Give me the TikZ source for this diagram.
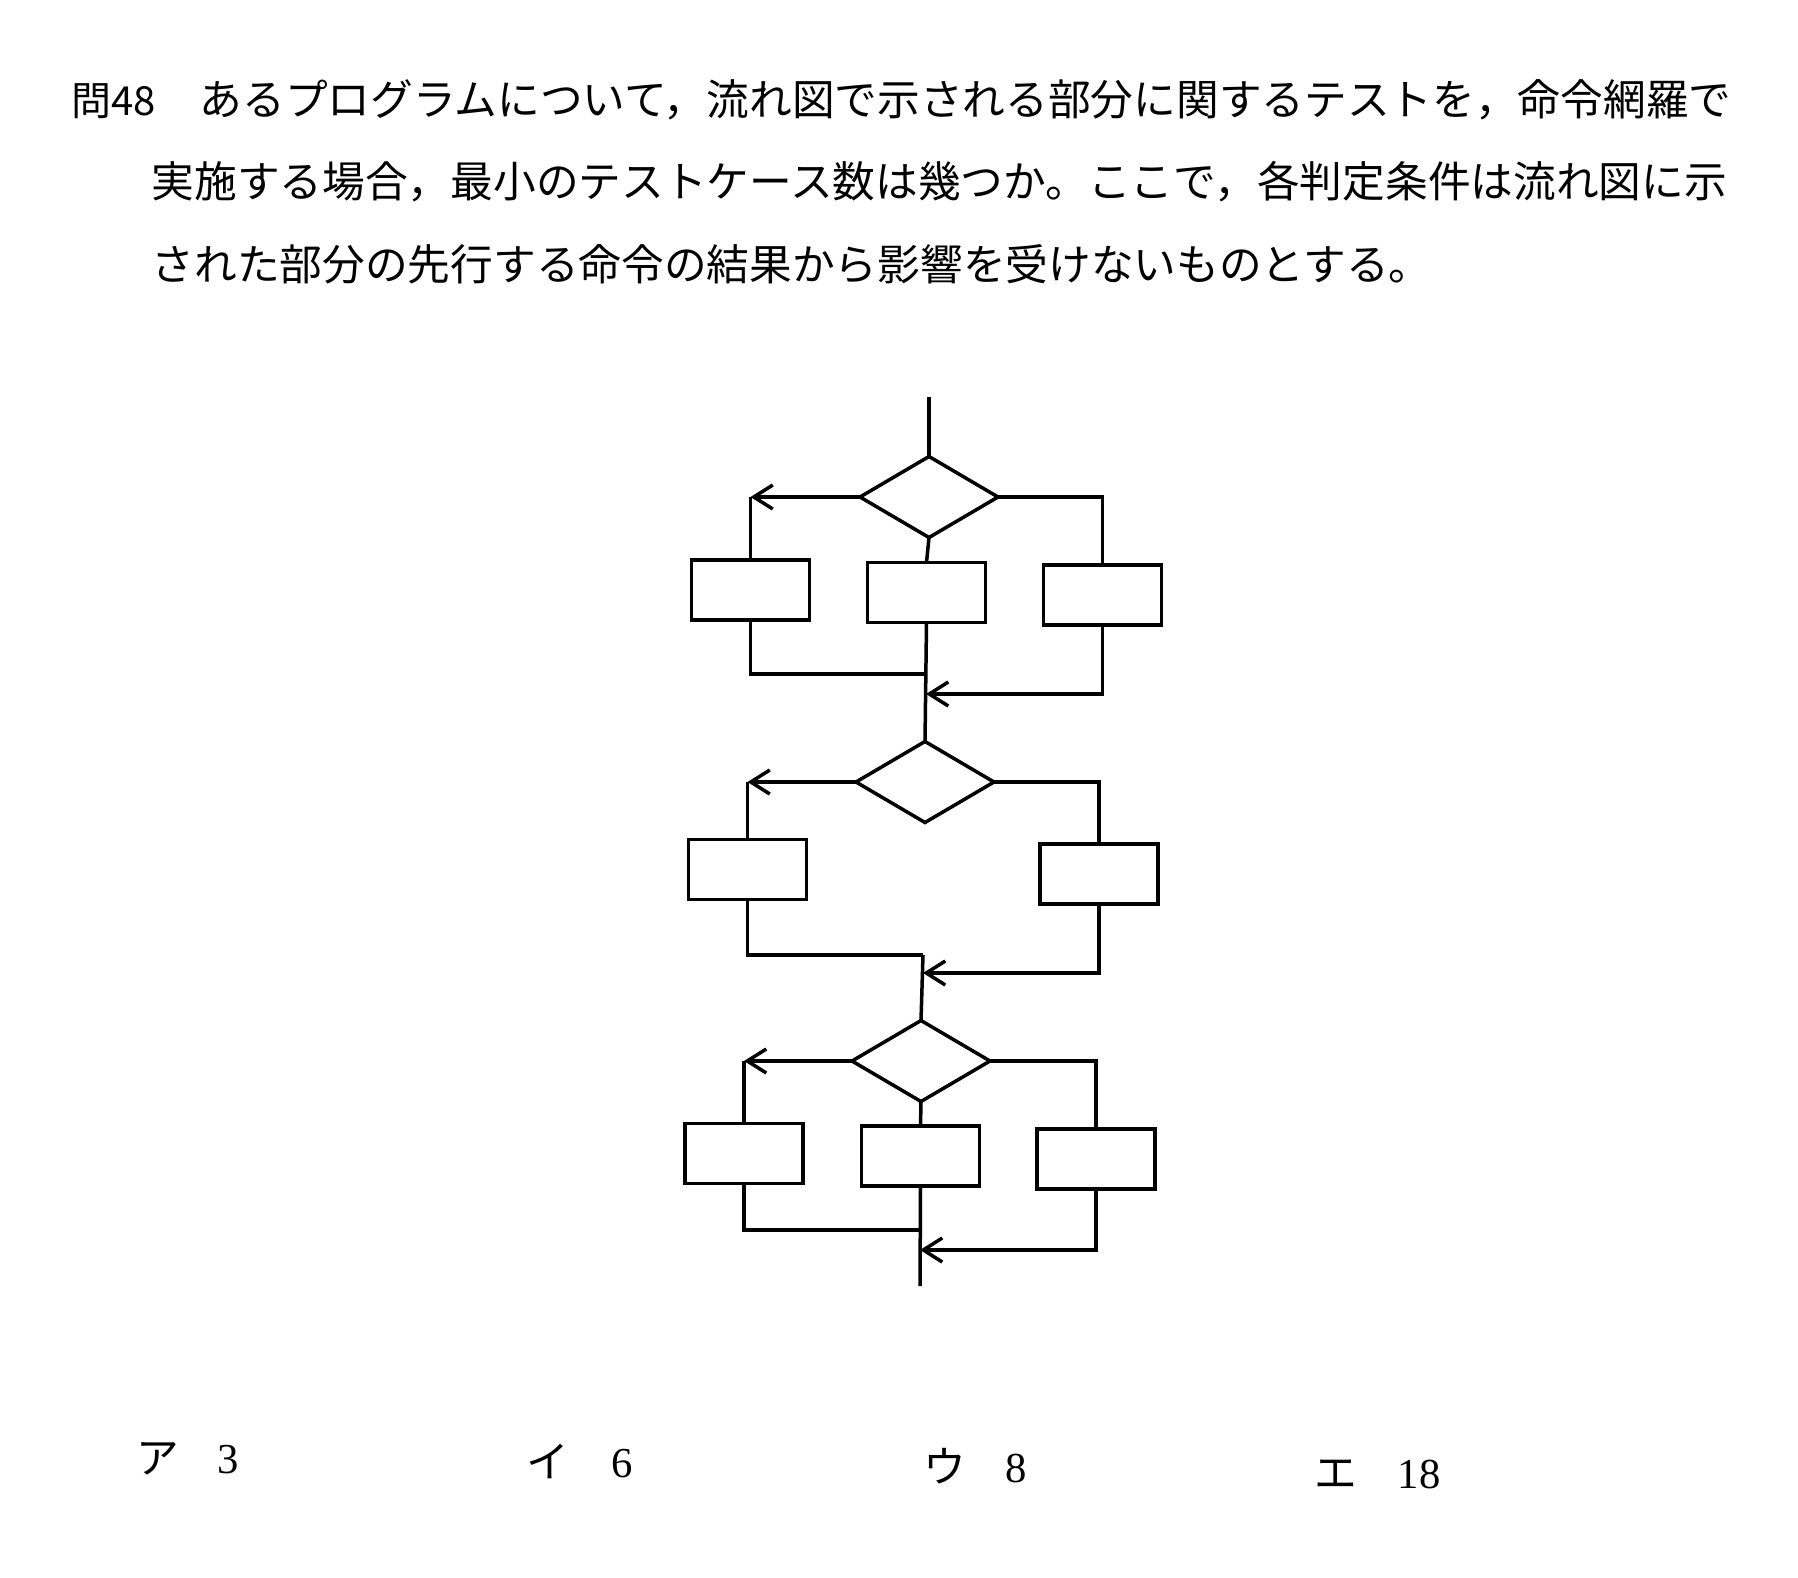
\documentclass[tikz,border=0pt]{standalone}
\usepackage{fontspec}
\setmainfont{Liberation Serif}
\newfontfamily\jp{Noto Sans CJK JP}
\usetikzlibrary{shapes.geometric,arrows.meta,calc}
\begin{document}
\begin{tikzpicture}[x=0.5pt,y=-0.5pt,
  line width=1.75pt,
  dec/.style={draw,diamond,minimum width=69pt,minimum height=40.5pt,inner sep=0pt,outer sep=0pt},
  proc/.style={draw,rectangle,minimum width=59pt,minimum height=30pt,inner sep=0pt,outer sep=0pt},
  arr/.style={-{Straight Barb[length=9.5pt,width=12pt]}},
  qtext/.style={anchor=base west,inner sep=0pt,font=\jp\fontsize{21.35pt}{21.35pt}\selectfont},
  qnum/.style={anchor=base west,inner sep=0pt,font=\jp\fontsize{20pt}{20pt}\selectfont},
  kana/.style={anchor=base west,inner sep=0pt,font=\jp\fontsize{21.35pt}{21.35pt}\selectfont},
  numb/.style={anchor=base west,inner sep=0pt,font=\fontsize{21.35pt}{21.35pt}\selectfont}]
\fill[white] (0,0) rectangle (1798,1578);
\useasboundingbox (0,0) rectangle (1798,1578);

% question text
\node[qnum] (qno) at (70,116) {問48};
\node[qtext] (l1) at (198,116) {あるプログラムについて，流れ図で示される部分に関するテストを，命令網羅で};
\node[qtext] (l2) at (150,198) {実施する場合，最小のテストケース数は幾つか。ここで，各判定条件は流れ図に示};
\node[qtext] (l3) at (150,280) {された部分の先行する命令の結果から影響を受けないものとする。};

% section 1
\coordinate (start) at (929,397);
\node[dec] (d1) at (929,497) {};
\node[proc] (L1) at (750.5,590) {};
\node[proc] (M1) at (926.5,592.5) {};
\node[proc] (R1) at (1102.5,595) {};
% section 2
\node[dec] (d2) at (925,782) {};
\node[proc] (L2) at (747.5,869.5) {};
\node[proc] (R2) at (1099,874) {};
% section 3
\node[dec] (d3) at (921,1061) {};
\node[proc] (L3) at (744,1153.5) {};
\node[proc] (M3) at (920.5,1156) {};
\node[proc] (R3) at (1096,1159) {};

\coordinate (j1) at (926,674);
\coordinate (a1) at (926,694);
\coordinate (j2) at (923,955);
\coordinate (a2) at (923,973);
\coordinate (j3) at (920,1230);
\coordinate (a3) at (920,1250);
\coordinate (stop) at (920,1286);

\coordinate (c1) at (d1.west -| L1.north);
\coordinate (c2) at (d2.west -| L2.north);
\coordinate (c3) at (d3.west -| L3.north);

% connectors section 1
\draw (start) -- (d1.north);
\draw[arr] (d1.west) -- (c1);
\draw (c1) -- (L1.north);
\draw (d1.east) -| (R1.north);
\draw (d1.south) -- (M1.north);
\draw (L1.south) |- (j1);
\draw (M1.south) -- (d2.north);
\draw[arr] (R1.south) |- (a1);

% connectors section 2
\draw[arr] (d2.west) -- (c2);
\draw (c2) -- (L2.north);
\draw (d2.east) -| (R2.north);
\draw (L2.south) |- (j2);
\draw (j2) -- (d3.north);
\draw[arr] (R2.south) |- (a2);

% connectors section 3
\draw[arr] (d3.west) -- (c3);
\draw (c3) -- (L3.north);
\draw (d3.east) -| (R3.north);
\draw (d3.south) -- (M3.north);
\draw (L3.south) |- (j3);
\draw (M3.south) -- (stop);
\draw[arr] (R3.south) |- (a3);

% answers
\node[kana] (ka) at (135,1473) {ア};
\node[numb] (na) at (216,1473) {3};
\node[kana] (ki) at (525,1477) {イ};
\node[numb] (ni) at (610,1477) {6};
\node[kana] (ku) at (922,1482) {ウ};
\node[numb] (nu) at (1004,1482) {8};
\node[kana] (ke) at (1313,1488) {エ};
\node[numb] (ne) at (1396,1488) {18};
\end{tikzpicture}
\end{document}
